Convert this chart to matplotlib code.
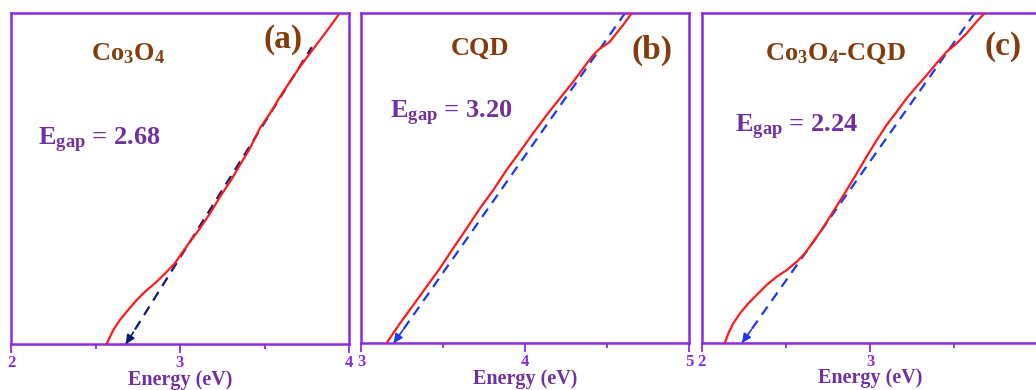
import numpy as np
import matplotlib
matplotlib.use("Agg")
import matplotlib.pyplot as plt

plt.rcParams["font.family"] = ["Liberation Serif", "DejaVu Serif"]
plt.rcParams["font.weight"] = "bold"
plt.rcParams["mathtext.fontset"] = "custom"
plt.rcParams["mathtext.rm"] = "Liberation Serif:bold"
plt.rcParams["mathtext.it"] = "Liberation Serif:bold"
plt.rcParams["mathtext.bf"] = "Liberation Serif:bold"

# Tauc plot traces (photon energy in eV, normalised (αhν)^2)
co3o4_x = [2.566, 2.605, 2.645, 2.685, 2.744, 2.793, 2.862, 2.921, 2.970, 3.010, 3.059,
           3.118, 3.178, 3.237, 3.296, 3.355, 3.414, 3.473, 3.533, 3.592, 3.651, 3.710,
           3.769, 3.828, 3.888, 3.937]
co3o4_y = [0.000, 0.042, 0.073, 0.098, 0.133, 0.158, 0.188, 0.218, 0.244, 0.274, 0.309,
           0.349, 0.395, 0.445, 0.490, 0.541, 0.591, 0.652, 0.697, 0.747, 0.793, 0.838,
           0.878, 0.918, 0.959, 0.994]

cqd_x = [3.156, 3.238, 3.319, 3.400, 3.481, 3.562, 3.644, 3.725, 3.806, 3.887, 3.968,
         4.049, 4.131, 4.212, 4.293, 4.354, 4.415, 4.456, 4.486, 4.516, 4.557, 4.597, 4.649]
cqd_y = [0.000, 0.060, 0.115, 0.171, 0.226, 0.287, 0.347, 0.408, 0.463, 0.524, 0.579,
         0.635, 0.690, 0.741, 0.791, 0.832, 0.872, 0.892, 0.902, 0.912, 0.938, 0.963, 0.998]

comp_x = [2.138, 2.158, 2.188, 2.228, 2.277, 2.327, 2.386, 2.446, 2.505, 2.564, 2.614,
          2.663, 2.713, 2.762, 2.812, 2.862, 2.921, 2.980, 3.040, 3.099, 3.159, 3.218,
          3.277, 3.337, 3.396, 3.456, 3.515, 3.575, 3.634, 3.683]
comp_y = [0.000, 0.028, 0.059, 0.089, 0.119, 0.145, 0.175, 0.200, 0.220, 0.245, 0.271,
          0.306, 0.342, 0.382, 0.422, 0.463, 0.513, 0.564, 0.614, 0.660, 0.700, 0.741,
          0.776, 0.811, 0.847, 0.882, 0.907, 0.938, 0.973, 1.000]

# Linear extrapolations: upper end -> band gap on the energy axis
egaps = [2.68, 3.20, 2.24]
fit_top_x = [3.78, 4.61, 3.624]
fit_top_y = [0.897, 1.000, 1.000]

samples = ["Co$_3$O$_4$", "CQD", "Co$_3$O$_4$-CQD"]
letters = ["(a)", "(b)", "(c)"]
xlims = [(2, 4), (3, 5), (2, 4)]
xticks = [[2, 3, 4], [3, 4, 5], [2, 3, 4]]
xticklabels = [["2", "3", "4"], ["3", "4", "5"], ["2", "3", ""]]

frame_c = "#8A2BE2"
tick_c = "#8A2BE2"
label_c = "#7030A0"
brown = "#843C0C"
fit_colors = ["#0A1A7A", "#1A3AF0", "#1A3AF0"]

fig = plt.figure(figsize=(10.36, 3.90), dpi=100)
W, H = 1036.0, 390.0
boxes = [(11, 338, 344, 331), (361, 328, 343, 330), (701.7, 336.6, 342.7, 330)]

sample_pos = [(0.346, 0.858), (0.363, 0.873), (0.396, 0.857)]
letter_pos = [(0.805, 0.894), (0.887, 0.862), (0.895, 0.872)]
egap_pos = [(0.080, 0.601), (0.088, 0.682), (0.099, 0.638)]

curves = [(co3o4_x, co3o4_y), (cqd_x, cqd_y), (comp_x, comp_y)]

for i in range(3):
    left, width, bottom_px, height = boxes[i]
    ax = fig.add_axes([left / W, (H - bottom_px) / H, width / W, height / H])
    ax.set_xlim(*xlims[i])
    ax.set_ylim(0, 1)

    cx, cy = curves[i]
    ax.plot(cx, cy, color="#FF1A1A", lw=1.6, solid_capstyle="round",
            solid_joinstyle="round", zorder=3)

    # extrapolated linear fit with arrowhead at the band gap
    x0, x1 = egaps[i], fit_top_x[i]
    y0, y1 = 0.0, fit_top_y[i]
    ax.plot([x0, x1], [y0, y1], color=fit_colors[i], lw=1.6,
            linestyle=(0, (4.5, 3.2)), zorder=2)
    t = 0.04
    ax.annotate("", xy=(x0, y0), xytext=(x0 + t * (x1 - x0), y0 + t * (y1 - y0)),
                arrowprops=dict(arrowstyle="-|>", color=fit_colors[i], lw=1.2,
                                mutation_scale=13, shrinkA=0, shrinkB=0),
                zorder=4, annotation_clip=False)

    for side in ["left", "right", "top", "bottom"]:
        ax.spines[side].set_color(frame_c)
        ax.spines[side].set_linewidth(1.8)
    ax.set_yticks([])
    ax.set_xticks(xticks[i])
    ax.set_xticklabels(xticklabels[i])
    ax.set_xticks([xticks[i][0] + 0.5, xticks[i][1] + 0.5], minor=True)
    ax.tick_params(axis="x", which="major", direction="out", length=6.5, width=1.3,
                   color=tick_c, labelcolor=tick_c, labelsize=12, pad=1.5)
    ax.tick_params(axis="x", which="minor", direction="out", length=3.5, width=1.3,
                   color=tick_c)
    for lab in ax.get_xticklabels():
        lab.set_fontweight("bold")
    ax.set_xlabel("Energy (eV)", color=label_c, fontsize=14.5, fontweight="bold",
                  labelpad=-1)

    ax.text(*sample_pos[i], samples[i], transform=ax.transAxes, ha="center",
            va="baseline", color=brown, fontsize=19, fontweight="bold")
    ax.text(*letter_pos[i], letters[i], transform=ax.transAxes, ha="center",
            va="baseline", color=brown, fontsize=24, fontweight="bold")
    ax.text(*egap_pos[i], r"E$_{\mathrm{gap}}$ = %.2f" % egaps[i], transform=ax.transAxes,
            ha="left", va="baseline", color=label_c, fontsize=19, fontweight="bold")

fig.savefig("out.png", dpi=100)
